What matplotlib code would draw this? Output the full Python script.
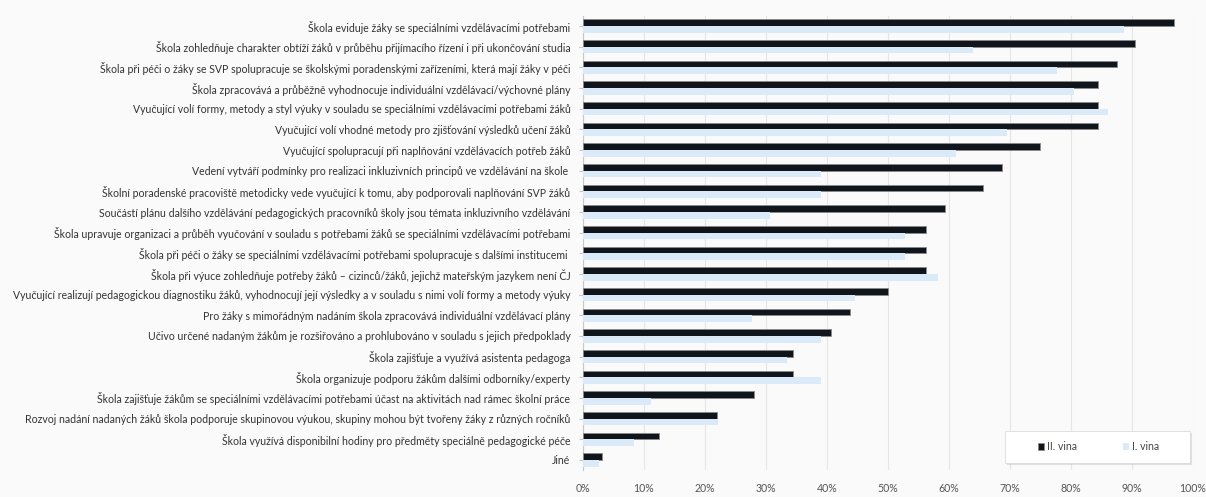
import matplotlib
matplotlib.use("Agg")
import matplotlib.pyplot as plt
from matplotlib.patches import Rectangle
import numpy as np

categories = [
    "Škola eviduje žáky se speciálními vzdělávacími potřebami",
    "Škola zohledňuje charakter obtíží žáků v průběhu přijímacího řízení i při ukončování studia",
    "Škola při péči o žáky se SVP spolupracuje se školskými poradenskými zařízeními, která mají žáky v péči",
    "Škola zpracovává a průběžně vyhodnocuje individuální vzdělávací/výchovné plány",
    "Vyučující volí formy, metody a styl výuky v souladu se speciálními vzdělávacími potřebami žáků",
    "Vyučující volí vhodné metody pro zjišťování výsledků učení žáků",
    "Vyučující spolupracují při naplňování vzdělávacích potřeb žáků",
    "Vedení vytváří podmínky pro realizaci inkluzivních principů ve vzdělávání na škole ",
    "Školní poradenské pracoviště metodicky vede vyučující k tomu, aby podporovali naplňování SVP žáků",
    "Součástí plánu dalšího vzdělávání pedagogických pracovníků školy jsou témata inkluzivního vzdělávání",
    "Škola upravuje organizaci a průběh vyučování v souladu s potřebami žáků se speciálními vzdělávacími potřebami",
    "Škola při péči o žáky se speciálními vzdělávacími potřebami spolupracuje s dalšími institucemi ",
    "Škola při výuce zohledňuje potřeby žáků – cizinců/žáků, jejichž mateřským jazykem není ČJ",
    "Vyučující realizují pedagogickou diagnostiku žáků, vyhodnocují její výsledky a v souladu s nimi volí formy a metody výuky",
    "Pro žáky s mimořádným nadáním škola zpracovává individuální vzdělávací plány",
    "Učivo určené nadaným žákům je rozšiřováno a prohlubováno v souladu s jejich předpoklady",
    "Škola zajišťuje a využívá asistenta pedagoga",
    "Škola organizuje podporu žákům dalšími odborníky/experty",
    "Škola zajišťuje žákům se speciálními vzdělávacími potřebami účast na aktivitách nad rámec školní práce",
    "Rozvoj nadání nadaných žáků škola podporuje skupinovou výukou, skupiny mohou být tvořeny žáky z různých ročníků",
    "Škola využívá disponibilní hodiny pro předměty speciálně pedagogické péče",
    "Jiné",
]

vlna2 = [96.9, 90.6, 87.5, 84.4, 84.4, 84.4, 75.0, 68.7, 65.6, 59.4, 56.3, 56.3, 56.3,
         50.0, 43.8, 40.6, 34.4, 34.4, 28.1, 21.9, 12.5, 3.1]
vlna1 = [88.8, 63.9, 77.8, 80.5, 86.1, 69.5, 61.1, 39.0, 39.0, 30.6, 52.8, 52.8, 58.3,
         44.6, 27.7, 39.0, 33.4, 39.0, 11.2, 22.2, 8.4, 2.7]

series_names = ["II. vina", "I. vina"]
xticks = [0, 10, 20, 30, 40, 50, 60, 70, 80, 90, 100]

plt.rcParams['font.family'] = ['Lato', 'DejaVu Sans']

fig = plt.figure(figsize=(12.06, 4.97), dpi=100)
fig.patch.set_facecolor("#fafafa")
ax = fig.add_axes([0.4834, 0.0537, 0.5056, 0.9147])
ax.set_facecolor("#fafafa")

n = len(categories)
y = np.arange(n)
h = 0.32
ax.barh(y - h / 2, vlna2, height=h, color="#10151c", edgecolor="#8a8a8a",
        linewidth=0.6, label=series_names[0], zorder=3)
ax.barh(y + h / 2, vlna1, height=h, color="#dbeaf8", edgecolor="none",
        label=series_names[1], zorder=3)

ax.set_ylim(n - 0.5, -0.5)
ax.set_xlim(0, 100)
ax.set_yticks(y)
ax.set_yticklabels(categories, fontsize=7.6, color="#333333")
ax.set_xticks(xticks)
ax.set_xticklabels([f"{t}%" for t in xticks], fontsize=7.6, color="#555555")
ax.tick_params(axis="y", length=3, color="#c8c8c8", pad=6)
ax.tick_params(axis="x", length=0, pad=9)
ax.grid(axis="x", color="#e6e6e6", linewidth=0.8, zorder=0)
for s in ["top", "right", "bottom"]:
    ax.spines[s].set_visible(False)
ax.spines["left"].set_color("#c8c8c8")
ax.spines["left"].set_linewidth(0.8)

# legend box with soft shadow
bx0, by0, bw, bh = 0.692, 0.017, 0.303, 0.070
for k, a in [(0.006, 0.10), (0.004, 0.12), (0.002, 0.15)]:
    ax.add_patch(Rectangle((bx0 + k * 0.6, by0 - k), bw, bh, transform=ax.transAxes,
                           facecolor="#000000", alpha=a, edgecolor="none", zorder=5))
ax.add_patch(Rectangle((bx0, by0), bw, bh, transform=ax.transAxes,
                       facecolor="white", edgecolor="#dcdcdc", linewidth=0.6, zorder=6))

leg = ax.legend(loc="center", bbox_to_anchor=(bx0 + bw / 2 + 0.002, by0 + bh / 2), ncol=2,
                fontsize=7.6, frameon=False, handlelength=0.55, handleheight=0.6,
                columnspacing=4.4, handletextpad=0.3)
leg.set_zorder(7)
for t in leg.get_texts():
    t.set_color("#444444")

fig.savefig("out.png", dpi=100, facecolor=fig.get_facecolor())
